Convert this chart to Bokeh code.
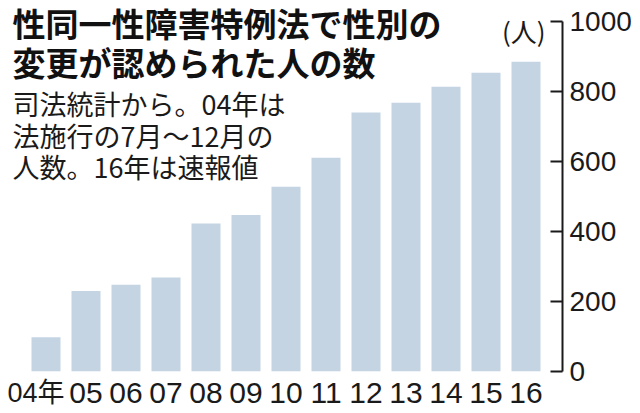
from bokeh.plotting import figure
from bokeh.models import LinearAxis, FixedTicker, Range1d, Label, ColumnDataSource
from bokeh.core.properties import value
from bokeh.embed import file_html
from bokeh.resources import INLINE

# ---- data ----
years = ["04年", "05", "06", "07", "08", "09", "10", "11", "12", "13", "14", "15", "16"]
counts = [97, 229, 247, 268, 422, 446, 527, 610, 739, 767, 813, 853, 884]
y_ticks = [0, 200, 400, 600, 800, 1000]
title_lines = ["性同一性障害特例法で性別の", "変更が認められた人の数"]
note_lines = ["司法統計から。04年は", "法施行の7月～12月の", "人数。16年は速報値"]
unit_label = "(人)"

# ---- layout constants (page pixels; the page has no margin) ----
FIG_W, FIG_H = 640, 413
AXIS_X = 562          # page x of the value axis line
PITCH = 40.0          # px per category
BAR0 = 45.5           # page x of first bar center
ZERO = 370.7          # page y of value 0
PXU = 0.35            # px per unit

X_START = -BAR0 / PITCH
X_END = X_START + AXIS_X / PITCH
Y_END = ZERO / PXU
Y_START = -(FIG_H - ZERO) / PXU


def px_x(px):
    return X_START + px / PITCH


def px_y(py):
    return (ZERO - py) / PXU


CJK = "Noto Sans CJK JP"
NUM = "Liberation Sans, Noto Sans CJK JP"
INK = "#1a1a1a"

idx = list(range(len(years)))
src = ColumnDataSource(dict(x=idx, top=counts))

p = figure(width=FIG_W, height=FIG_H, output_backend="svg", toolbar_location=None,
           x_range=Range1d(X_START, X_END), y_range=Range1d(Y_START, Y_END),
           x_axis_location=None, y_axis_location=None,
           min_border_left=0, min_border_top=0, min_border_bottom=0,
           min_border_right=FIG_W - AXIS_X)
p.grid.visible = False
p.outline_line_color = None
p.background_fill_color = "white"
p.border_fill_color = "white"

p.vbar(x="x", top="top", bottom=0, width=0.725, source=src,
       fill_color="#c4d4e3", line_color=None)

yaxis = LinearAxis(ticker=FixedTicker(ticks=y_ticks), bounds=(0, 1000))
yaxis.axis_line_width = 2
yaxis.axis_line_color = INK
yaxis.major_tick_line_width = 2
yaxis.major_tick_line_color = INK
yaxis.major_tick_in = 12
yaxis.major_tick_out = 0
yaxis.minor_tick_line_color = None
yaxis.major_label_standoff = 7
yaxis.major_label_text_font = NUM
yaxis.major_label_text_font_size = "28px"
yaxis.major_label_text_color = INK
p.add_layout(yaxis, "right")

# x category labels
lab_y = px_y(392)
first = ColumnDataSource(dict(x=[px_x(7)], y=[lab_y], t=years[:1]))
rest = ColumnDataSource(dict(x=idx[1:], y=[lab_y] * (len(years) - 1), t=years[1:]))
p.text(x="x", y="y", text="t", source=first, text_align="left", text_baseline="middle",
       text_font=value(NUM), text_font_size="27px", text_color=INK)
p.text(x="x", y="y", text="t", source=rest, text_align="center", text_baseline="middle",
       text_font=value(NUM), text_font_size="30px", text_color=INK)

# title
for line, cy in zip(title_lines, [22.5, 61]):
    p.add_layout(Label(x=px_x(12), y=px_y(cy), text=line, text_font=CJK,
                       text_font_style="bold", text_font_size="33px",
                       text_color="#111111", text_baseline="middle", text_align="left"))

for line, cy in zip(note_lines, [103, 135, 166]):
    p.add_layout(Label(x=px_x(12), y=px_y(cy), text=line, text_font=CJK,
                       text_font_size="27px", text_color=INK,
                       text_baseline="middle", text_align="left"))

p.add_layout(Label(x=px_x(545), y=px_y(30), text=unit_label, text_font=CJK,
                   text_font_size="26px", text_color=INK,
                   text_baseline="middle", text_align="right"))

open("out.html", "w").write(file_html(p, INLINE))
